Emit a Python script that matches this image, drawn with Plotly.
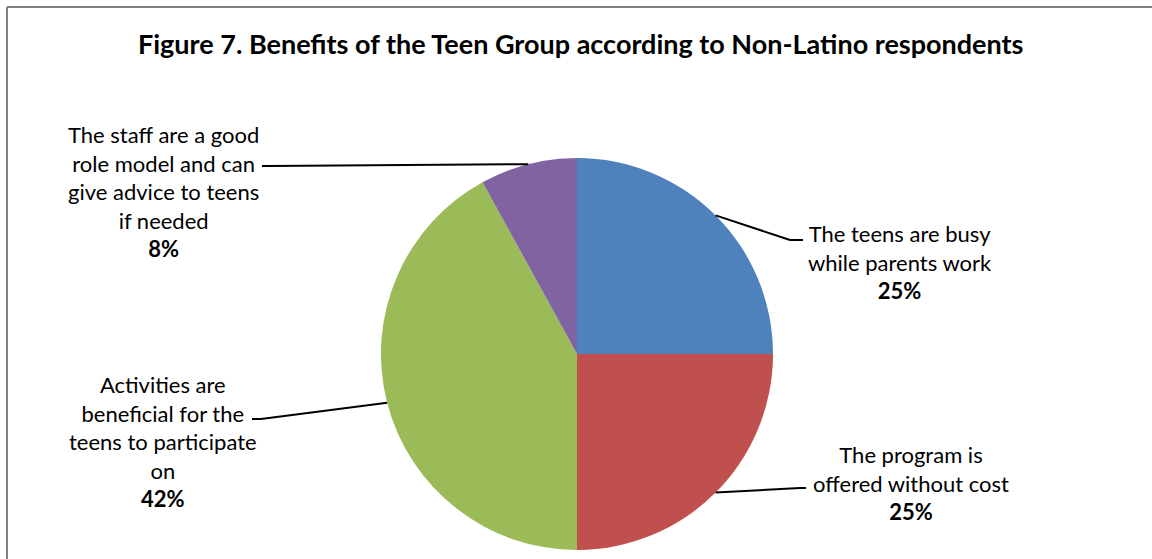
import math
import plotly.graph_objects as go

# ---- data ----
categories = [
    "The teens are busy<br>while parents work",
    "The program is<br>offered without cost",
    "Activities are<br>beneficial for the<br>teens to participate<br>on",
    "The staff are a good<br>role model and can<br>give advice to teens<br>if needed",
]
values = [25, 25, 42, 8]
colors = ["#4F81BD", "#C0504D", "#9BBB59", "#8064A2"]
title = "Figure 7. Benefits of the Teen Group according to Non-Latino respondents"

W, H = 1152, 559
CX, CY, R = 577, 354, 196  # pie centre / radius in pixels

def px(x):
    return x / W

def py(y):
    return 1 - y / H

fig = go.Figure()
fig.add_trace(go.Pie(
    values=values,
    labels=[c.replace("<br>", " ") for c in categories],
    marker=dict(colors=colors, line=dict(width=0)),
    sort=False,
    direction="clockwise",
    rotation=0,
    textinfo="none",
    hoverinfo="label+percent",
    showlegend=False,
    domain=dict(x=[px(CX - R), px(CX + R)], y=[py(CY + R), py(CY - R)]),
))

# label layout (text position, elbow of leader line, horizontal end)
label_pos = [
    dict(tx=900, ty=262, elbow=(790, 240), end=(803, 240)),
    dict(tx=911, ty=483, elbow=(800, 488), end=(806, 488)),
    dict(tx=163, ty=441, elbow=(261, 419), end=(252, 419)),
    dict(tx=163, ty=191, elbow=(268, 166), end=(262, 166)),
]

total = sum(values)
cum = 0
shapes = []
annotations = []
for cat, v, lp in zip(categories, values, label_pos):
    mid = (cum + v / 2) / total * 2 * math.pi
    cum += v
    ax = CX + R * math.sin(mid)
    ay = CY - R * math.cos(mid)
    ex, ey = lp["elbow"]
    fx, fy = lp["end"]
    shapes.append(dict(type="line", xref="paper", yref="paper",
                       x0=px(ax), y0=py(ay), x1=px(ex), y1=py(ey),
                       line=dict(color="black", width=2)))
    shapes.append(dict(type="line", xref="paper", yref="paper",
                       x0=px(ex), y0=py(ey), x1=px(fx), y1=py(fy),
                       line=dict(color="black", width=2)))
    pct = round(v / total * 100)
    annotations.append(dict(
        x=px(lp["tx"]), y=py(lp["ty"]), xref="paper", yref="paper",
        text=f"{cat}<br><b>{pct}%</b>", showarrow=False,
        xanchor="center", yanchor="middle", align="center",
        font=dict(family="Lato", size=22, color="#000000"),
    ))

annotations.append(dict(
    x=px(580), y=py(44), xref="paper", yref="paper",
    text=f"<b>{title}</b>", showarrow=False, xanchor="center", yanchor="middle",
    font=dict(family="Lato", size=27, color="#000000"),
))

# chart border (top and left edges visible)
shapes.append(dict(type="line", xref="paper", yref="paper",
                   x0=px(7), y0=py(7), x1=1, y1=py(7),
                   line=dict(color="#808080", width=2)))
shapes.append(dict(type="line", xref="paper", yref="paper",
                   x0=px(7), y0=py(7), x1=px(7), y1=0,
                   line=dict(color="#808080", width=2)))

fig.update_layout(
    width=W, height=H,
    margin=dict(l=0, r=0, t=0, b=0),
    paper_bgcolor="white", plot_bgcolor="white",
    shapes=shapes, annotations=annotations,
)

fig.write_html(
    "out.html",
    config={"displayModeBar": False},
    post_script="document.body.style.margin='0';document.body.style.overflow='hidden';",
)
